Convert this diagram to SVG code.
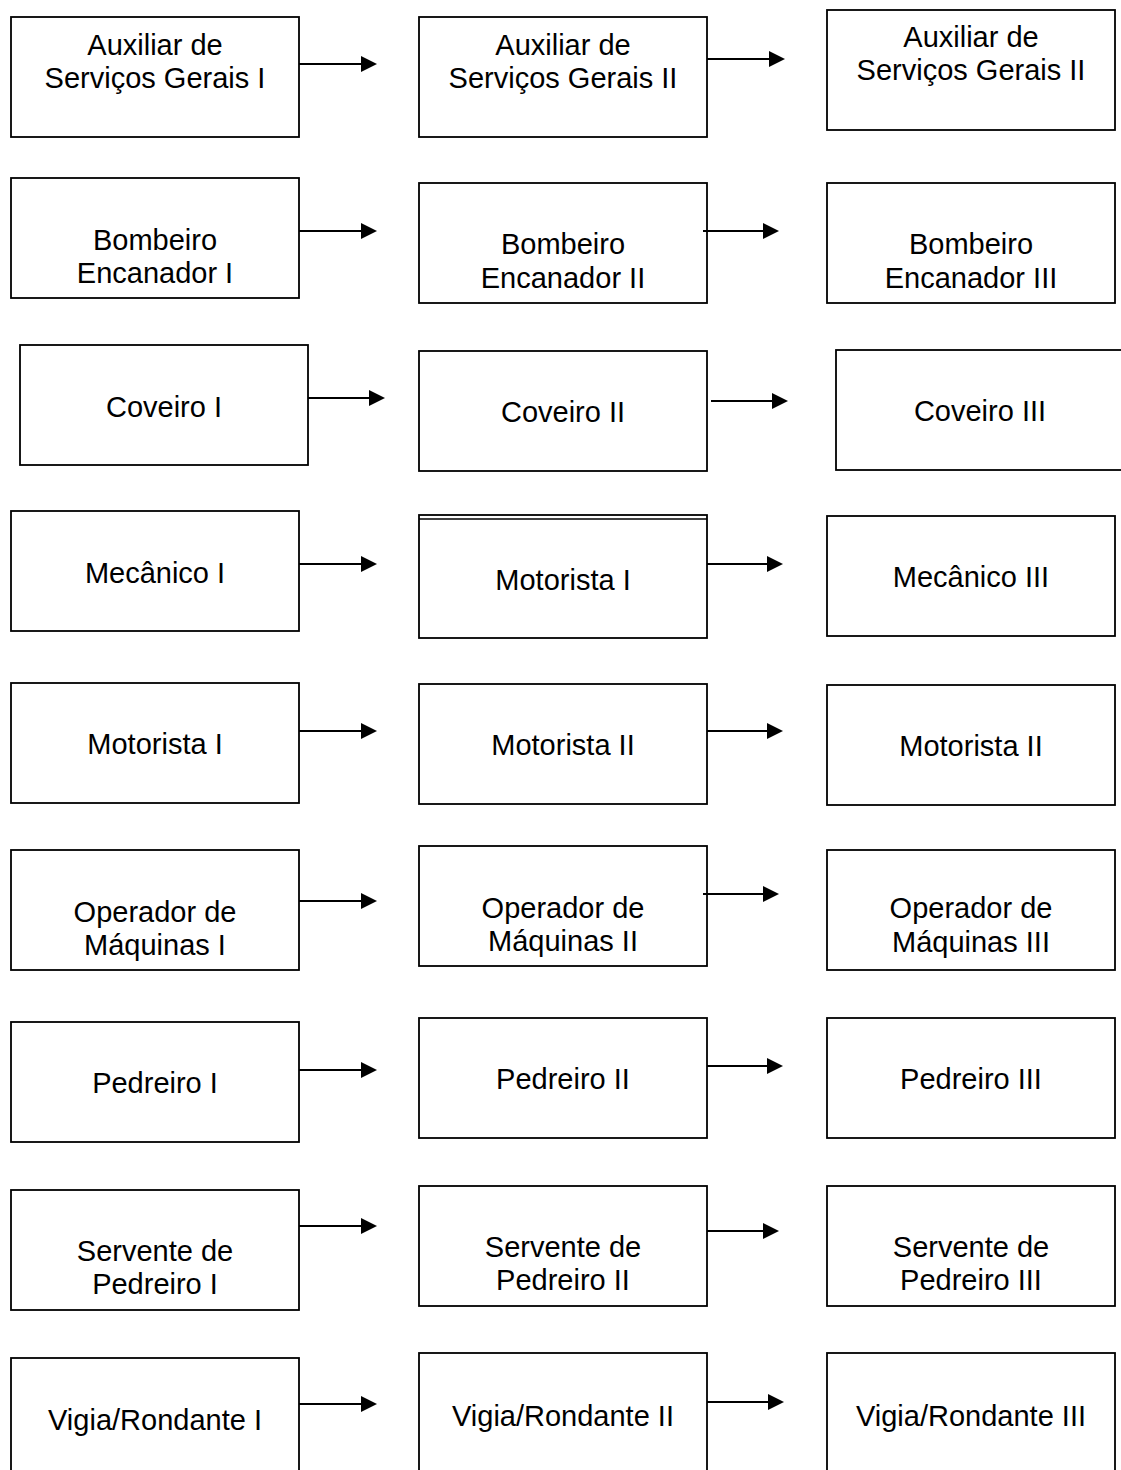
<svg xmlns="http://www.w3.org/2000/svg" width="1121" height="1470" viewBox="0 0 1121 1470">
<style>
.box{fill:#fff;stroke:#000;stroke-width:1.8}
.t{font-family:"Liberation Sans",Arial,sans-serif;font-size:29px;fill:#000;text-anchor:middle}
.c{stroke:#000;stroke-width:2.2;fill:none}
</style>
<defs>
<marker id="ah" markerUnits="userSpaceOnUse" markerWidth="16" markerHeight="16" viewBox="0 0 16 16" refX="0" refY="8" orient="auto">
<path d="M0,0 L16,8 L0,16 Z" fill="#000"/>
</marker>
</defs>
<rect width="1121" height="1470" fill="#fff"/>

<g id="r1a"><rect class="box" x="11" y="17" width="288" height="120"/><text class="t" x="155" y="55">Auxiliar de</text><text class="t" x="155" y="88">Serviços Gerais I</text></g>
<g id="r1b"><rect class="box" x="419" y="17" width="288" height="120"/><text class="t" x="563" y="55">Auxiliar de</text><text class="t" x="563" y="88">Serviços Gerais II</text></g>
<g id="r1c"><rect class="box" x="827" y="10" width="288" height="120"/><text class="t" x="971" y="47">Auxiliar de</text><text class="t" x="971" y="80">Serviços Gerais II</text></g>

<g id="r2a"><rect class="box" x="11" y="178" width="288" height="120"/><text class="t" x="155" y="250">Bombeiro</text><text class="t" x="155" y="283">Encanador I</text></g>
<g id="r2b"><rect class="box" x="419" y="183" width="288" height="120"/><text class="t" x="563" y="254">Bombeiro</text><text class="t" x="563" y="288">Encanador II</text></g>
<g id="r2c"><rect class="box" x="827" y="183" width="288" height="120"/><text class="t" x="971" y="254">Bombeiro</text><text class="t" x="971" y="288">Encanador III</text></g>

<g id="r3a"><rect class="box" x="20" y="345" width="288" height="120"/><text class="t" x="164" y="417">Coveiro I</text></g>
<g id="r3b"><rect class="box" x="419" y="351" width="288" height="120"/><text class="t" x="563" y="422">Coveiro II</text></g>
<g id="r3c"><rect class="box" x="836" y="350" width="300" height="120"/><text class="t" x="980" y="421">Coveiro III</text></g>

<g id="r4a"><rect class="box" x="11" y="511" width="288" height="120"/><text class="t" x="155" y="583">Mecânico I</text></g>
<g id="r4b"><rect class="box" x="419" y="515" width="288" height="123"/><line x1="419" y1="519" x2="707" y2="519" stroke="#000" stroke-width="1.5"/><text class="t" x="563" y="590">Motorista I</text></g>
<g id="r4c"><rect class="box" x="827" y="516" width="288" height="120"/><text class="t" x="971" y="587">Mecânico III</text></g>

<g id="r5a"><rect class="box" x="11" y="683" width="288" height="120"/><text class="t" x="155" y="754">Motorista I</text></g>
<g id="r5b"><rect class="box" x="419" y="684" width="288" height="120"/><text class="t" x="563" y="755">Motorista II</text></g>
<g id="r5c"><rect class="box" x="827" y="685" width="288" height="120"/><text class="t" x="971" y="756">Motorista II</text></g>

<g id="r6a"><rect class="box" x="11" y="850" width="288" height="120"/><text class="t" x="155" y="922">Operador de</text><text class="t" x="155" y="955">Máquinas I</text></g>
<g id="r6b"><rect class="box" x="419" y="846" width="288" height="120"/><text class="t" x="563" y="918">Operador de</text><text class="t" x="563" y="951">Máquinas II</text></g>
<g id="r6c"><rect class="box" x="827" y="850" width="288" height="120"/><text class="t" x="971" y="918">Operador de</text><text class="t" x="971" y="952">Máquinas III</text></g>

<g id="r7a"><rect class="box" x="11" y="1022" width="288" height="120"/><text class="t" x="155" y="1093">Pedreiro I</text></g>
<g id="r7b"><rect class="box" x="419" y="1018" width="288" height="120"/><text class="t" x="563" y="1089">Pedreiro II</text></g>
<g id="r7c"><rect class="box" x="827" y="1018" width="288" height="120"/><text class="t" x="971" y="1089">Pedreiro III</text></g>

<g id="r8a"><rect class="box" x="11" y="1190" width="288" height="120"/><text class="t" x="155" y="1261">Servente de</text><text class="t" x="155" y="1294">Pedreiro I</text></g>
<g id="r8b"><rect class="box" x="419" y="1186" width="288" height="120"/><text class="t" x="563" y="1257">Servente de</text><text class="t" x="563" y="1290">Pedreiro II</text></g>
<g id="r8c"><rect class="box" x="827" y="1186" width="288" height="120"/><text class="t" x="971" y="1257">Servente de</text><text class="t" x="971" y="1290">Pedreiro III</text></g>

<g id="r9a"><rect class="box" x="11" y="1358" width="288" height="130"/><text class="t" x="155" y="1430">Vigia/Rondante I</text></g>
<g id="r9b"><rect class="box" x="419" y="1353" width="288" height="130"/><text class="t" x="563" y="1426">Vigia/Rondante II</text></g>
<g id="r9c"><rect class="box" x="827" y="1353" width="288" height="130"/><text class="t" x="971" y="1426">Vigia/Rondante III</text></g>

<g id="connectors">
<path class="c" d="M299,64 H361" marker-end="url(#ah)"/>
<path class="c" d="M707,59 H769" marker-end="url(#ah)"/>
<path class="c" d="M299,231 H361" marker-end="url(#ah)"/>
<path class="c" d="M703,231 H763" marker-end="url(#ah)"/>
<path class="c" d="M308,398 H369" marker-end="url(#ah)"/>
<path class="c" d="M711,401 H772" marker-end="url(#ah)"/>
<path class="c" d="M299,564 H361" marker-end="url(#ah)"/>
<path class="c" d="M707,564 H767" marker-end="url(#ah)"/>
<path class="c" d="M299,731 H361" marker-end="url(#ah)"/>
<path class="c" d="M707,731 H767" marker-end="url(#ah)"/>
<path class="c" d="M299,901 H361" marker-end="url(#ah)"/>
<path class="c" d="M703,894 H763" marker-end="url(#ah)"/>
<path class="c" d="M299,1070 H361" marker-end="url(#ah)"/>
<path class="c" d="M707,1066 H767" marker-end="url(#ah)"/>
<path class="c" d="M299,1226 H361" marker-end="url(#ah)"/>
<path class="c" d="M707,1231 H763" marker-end="url(#ah)"/>
<path class="c" d="M299,1404 H361" marker-end="url(#ah)"/>
<path class="c" d="M707,1402 H768" marker-end="url(#ah)"/>
</g>
</svg>
